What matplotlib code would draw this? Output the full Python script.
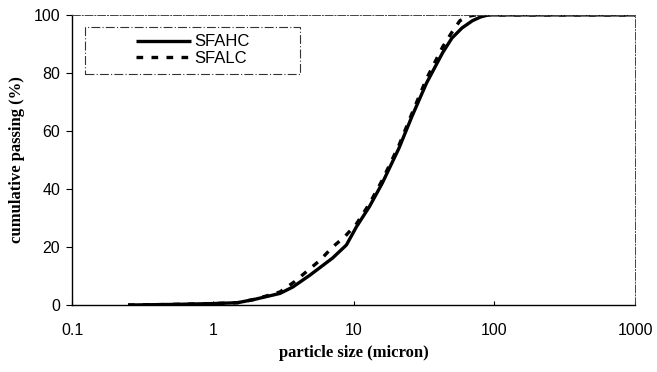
import matplotlib
matplotlib.use('Agg')
import matplotlib.pyplot as plt
from matplotlib.patches import Rectangle

# particle size distribution
size_hc = [0.25, 0.5, 1.0, 1.5, 2.0, 3.0, 3.7, 4.9, 7.1, 8.9, 10.5, 13, 16, 21, 26, 33, 43, 50, 59, 70, 80, 91, 200, 500, 1000]
pass_hc = [0, 0.2, 0.5, 0.8, 2.0, 4.0, 6.2, 10.3, 16.2, 20.7, 27, 34, 42, 54, 65, 76.5, 87, 92, 95.5, 98, 99.3, 100, 100, 100, 100]

size_lc = [0.25, 0.5, 1.0, 1.5, 2.0, 3.0, 3.8, 5.8, 7.1, 8.6, 10.5, 13, 16, 21, 26, 33, 43, 50, 57, 65, 74, 100, 1000]
pass_lc = [0, 0.2, 0.5, 0.8, 2.0, 4.5, 8.0, 15.5, 20, 23.4, 28, 35, 43, 55, 66, 78, 89, 94, 98, 99.5, 100, 100, 100]

yticks = [0, 20, 40, 60, 80, 100]
xticks = [0.1, 1, 10, 100, 1000]
xtick_labels = ['0.1', '1', '10', '100', '1000']

fig = plt.figure(figsize=(6.57, 3.72), dpi=100)
ax = fig.add_axes([0.1096, 0.180, 0.857, 0.780])

ax.plot(size_hc, pass_hc, color='black', lw=2.4, solid_capstyle='butt', label='SFAHC')
ax.plot(size_lc, pass_lc, color='black', lw=2.4, linestyle=(0, (2, 2.5)), label='SFALC')

ax.set_xscale('log')
ax.set_xlim(0.1, 1000)
ax.set_ylim(0, 100)
ax.set_xticks(xticks)
ax.set_xticklabels(xtick_labels)
ax.xaxis.set_minor_locator(plt.NullLocator())
ax.set_yticks(yticks)
ax.tick_params(axis='y', direction='out', length=4, width=0.8, pad=4.5, labelsize=11.5)
ax.tick_params(axis='x', direction='in', length=3, width=0.8, pad=13, labelsize=11.5)
for lab in ax.get_xticklabels() + ax.get_yticklabels():
    lab.set_family('Liberation Sans')

ax.spines['left'].set_linewidth(1.0)
ax.spines['bottom'].set_linewidth(1.0)
for s in ['top', 'right']:
    ax.spines[s].set_linewidth(0.7)
    ax.spines[s].set_linestyle((0, (8, 2, 1, 2)))
    ax.spines[s].set_color('#444444')

ax.set_xlabel('particle size (micron)', family='Liberation Serif', weight='bold', fontsize=12, labelpad=5)
ax.set_ylabel('cumulative passing (%)', family='Liberation Serif', weight='bold', fontsize=12, labelpad=6)

# legend inside a dash-dot box
box = Rectangle((0.023, 0.797), 0.382, 0.162, transform=ax.transAxes, fill=False,
                edgecolor='#333333', lw=0.8, linestyle=(0, (8, 2, 1, 2)))
ax.add_patch(box)
ax.legend(loc='center', bbox_to_anchor=(0.023, 0.797, 0.382, 0.162), frameon=False,
          prop={'family': 'Liberation Sans', 'size': 12}, handlelength=3.3,
          handletextpad=0.2, labelspacing=0.1, borderpad=0.1)

fig.savefig('out.png', dpi=100)
